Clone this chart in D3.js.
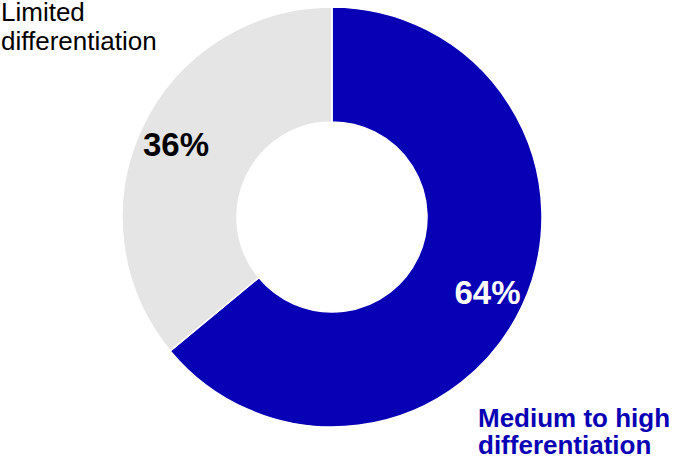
<!DOCTYPE html>
<html>
<head>
<meta charset="utf-8">
<script src="https://cdn.jsdelivr.net/npm/d3@7"></script>
<style>
  html, body { margin: 0; padding: 0; background: #ffffff; }
  svg { display: block; font-family: "Liberation Sans", Arial, sans-serif; }
</style>
</head>
<body>
<svg id="chart" width="673" height="459"></svg>
<script>
// Share of companies by degree of differentiation
const categories = ["Medium to high differentiation", "Limited differentiation"];
const shares = [64, 36];
const shareLabels = ["64%", "36%"];
const sliceColors = ["#0800b4", "#e5e5e5"];
const labelColors = ["#ffffff", "#000000"];

const svg = d3.select("#chart");
const cx = 332, cy = 217;
const outerR = 210, innerR = 95;

const pie = d3.pie().sort(null).value(d => d.value);
const arcs = pie(categories.map((c, i) => ({
  name: c, value: shares[i], label: shareLabels[i],
  color: sliceColors[i], labelColor: labelColors[i]
})));

const arc = d3.arc().innerRadius(innerR).outerRadius(outerR);

const g = svg.append("g").attr("transform", `translate(${cx},${cy})`);

g.selectAll("path.slice")
  .data(arcs)
  .join("path")
  .attr("class", "slice")
  .attr("d", arc)
  .attr("fill", d => d.data.color)
  .attr("stroke", "#ffffff")
  .attr("stroke-width", 1.5);

// Percentage labels sit inside the ring, at a fixed point of each slice
const labelSpots = [[155.5, 87], [-156, -61]];
g.selectAll("text.pct")
  .data(arcs)
  .join("text")
  .attr("class", "pct")
  .attr("x", (d, i) => labelSpots[i][0])
  .attr("y", (d, i) => labelSpots[i][1])
  .attr("text-anchor", "middle")
  .attr("font-weight", "bold")
  .attr("font-size", 33)
  .attr("fill", d => d.data.labelColor)
  .text(d => d.data.label);

// Category captions
const limited = svg.append("text")
  .attr("y", 21)
  .attr("font-size", 26)
  .attr("fill", "#000000");
limited.append("tspan").attr("x", 1).attr("dy", 0).text("Limited");
limited.append("tspan").attr("x", 1).attr("dy", 28.5).text("differentiation");

const medium = svg.append("text")
  .attr("y", 426.5)
  .attr("font-size", 26)
  .attr("font-weight", "bold")
  .attr("fill", "#0800b4");
medium.append("tspan").attr("x", 478).attr("dy", 0).text("Medium to high");
medium.append("tspan").attr("x", 478).attr("dy", 27).text("differentiation");
</script>
</body>
</html>
